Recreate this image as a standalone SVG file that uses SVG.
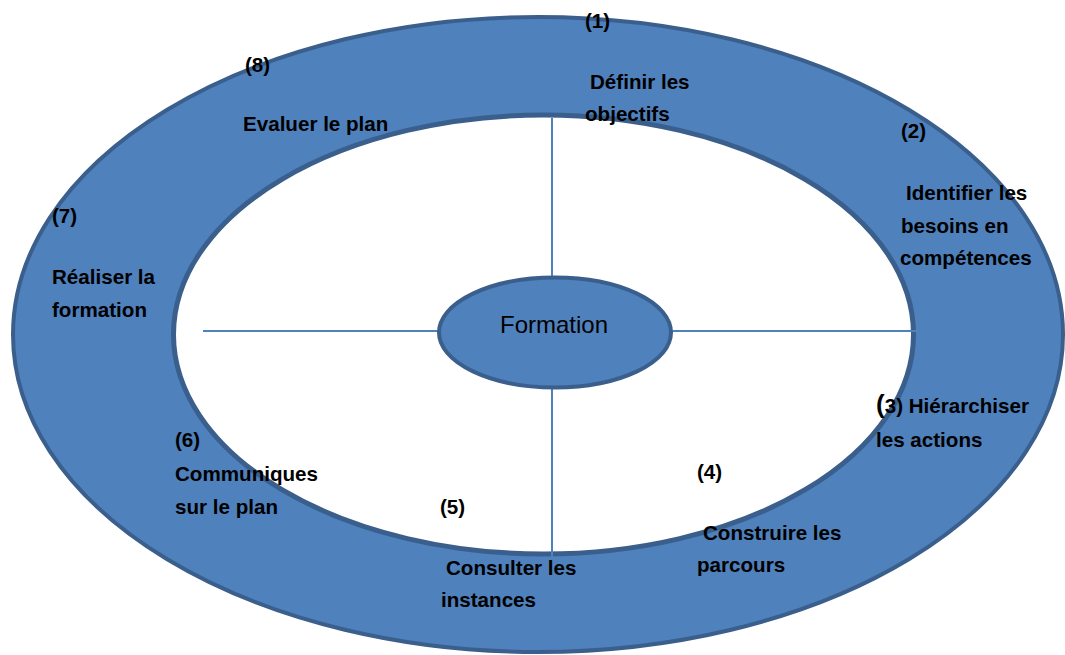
<svg xmlns="http://www.w3.org/2000/svg" width="1065" height="655" viewBox="0 0 1065 655">
<style>
.ring{fill:#4f81bd;stroke:#3a5f8c;stroke-width:4}
.hole{fill:#ffffff;stroke:#3a5f8c;stroke-width:5}
.hub{fill:#4f81bd;stroke:#3a5f8c;stroke-width:4}
.con{stroke:#4f81bd;stroke-width:2;fill:none}
.lbl{font-family:"Liberation Sans",Arial,sans-serif;font-weight:bold;font-size:20.6px;fill:#000}
.hubt{font-family:"Liberation Sans",Arial,sans-serif;font-size:24px;fill:#000}
</style>
<rect width="1065" height="655" fill="#ffffff"/>
<g id="ring">
<ellipse class="ring" cx="538" cy="334.5" rx="525" ry="317.5"/>
<ellipse class="hole" cx="543.5" cy="334.5" rx="370" ry="219.5"/>
</g>
<g id="connectors">
<line class="con" x1="552" y1="118" x2="552" y2="279"/>
<line class="con" x1="552" y1="388" x2="552" y2="560"/>
<line class="con" x1="203" y1="331" x2="440" y2="331"/>
<line class="con" x1="671" y1="331" x2="938" y2="331"/>
</g>
<g id="formation">
<ellipse class="hub" cx="555" cy="332.5" rx="116" ry="55"/>
<text class="hubt" x="554" y="333" text-anchor="middle">Formation</text>
</g>
<g id="step1">
<text class="lbl" x="585" y="28">(1)</text>
<text class="lbl" x="590" y="89">Définir les</text>
<text class="lbl" x="585" y="121">objectifs</text>
</g>
<g id="step2">
<text class="lbl" x="901" y="138">(2)</text>
<text class="lbl" x="906" y="200">Identifier les</text>
<text class="lbl" x="901" y="233">besoins en</text>
<text class="lbl" x="900" y="265">compétences</text>
</g>
<g id="step3">
<text class="lbl" x="876" y="413"><tspan font-size="26px">(</tspan>3) Hiérarchiser</text>
<text class="lbl" x="876" y="447">les actions</text>
</g>
<g id="step4">
<text class="lbl" x="697" y="479">(4)</text>
<text class="lbl" x="703" y="540">Construire les</text>
<text class="lbl" x="697" y="572">parcours</text>
</g>
<g id="step5">
<text class="lbl" x="440" y="514">(5)</text>
<text class="lbl" x="446" y="575">Consulter les</text>
<text class="lbl" x="441" y="607">instances</text>
</g>
<g id="step6">
<text class="lbl" x="175" y="447">(6)</text>
<text class="lbl" x="175" y="481">Communiques</text>
<text class="lbl" x="175" y="514">sur le plan</text>
</g>
<g id="step7">
<text class="lbl" x="52" y="223">(7)</text>
<text class="lbl" x="52" y="284">Réaliser la</text>
<text class="lbl" x="52" y="317">formation</text>
</g>
<g id="step8">
<text class="lbl" x="245" y="72">(8)</text>
<text class="lbl" x="243" y="131">Evaluer le plan</text>
</g>
</svg>
